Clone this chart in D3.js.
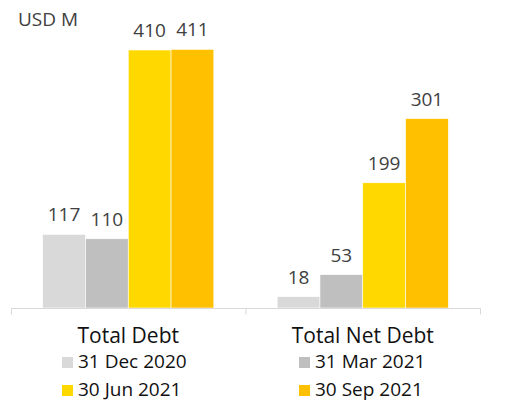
<!DOCTYPE html>
<html>
<head>
<meta charset="utf-8">
<script src="https://cdn.jsdelivr.net/npm/d3@7"></script>
<style>
  html, body { margin: 0; padding: 0; background: #fff; }
  svg { display: block; font-family: "Open Sans", "Noto Sans", sans-serif; }
</style>
</head>
<body>
<svg id="chart" width="508" height="402"></svg>
<script>
// Debt position, USD millions
const categories = ["Total Debt", "Total Net Debt"];
const seriesNames = ["31 Dec 2020", "31 Mar 2021", "30 Jun 2021", "30 Sep 2021"];
const seriesColors = ["#D9D9D9", "#BFBFBF", "#FFD800", "#FFC000"];
const totalDebt = [117, 110, 410, 411];
const totalNetDebt = [18, 53, 199, 301];
const unitLabel = "USD M";

const values = [totalDebt, totalNetDebt];
const rows = categories.map((c, i) => ({
  category: c,
  bars: seriesNames.map((s, j) => ({ series: s, value: values[i][j], color: seriesColors[j] }))
}));

const svg = d3.select("#chart");
const baseY = 308;
const left = 11, right = 480;

const x0 = d3.scaleBand().domain(categories).range([left, right]).paddingInner(0).paddingOuter(0);
const x1 = d3.scaleBand().domain(seriesNames).range([0, x0.bandwidth()]).paddingInner(0).paddingOuter(0.74);
const y = d3.scaleLinear().domain([0, 450]).range([baseY, baseY - 450 * 0.6293]);

// unit caption
svg.append("text")
  .attr("x", 18).attr("y", 26)
  .attr("font-size", 19).attr("fill", "#404040")
  .text(unitLabel);

// bars
const groups = svg.selectAll("g.group").data(rows).join("g")
  .attr("class", "group")
  .attr("transform", d => `translate(${x0(d.category)},0)`);

groups.selectAll("rect").data(d => d.bars).join("rect")
  .attr("x", d => x1(d.series))
  .attr("width", x1.bandwidth())
  .attr("y", d => y(d.value))
  .attr("height", d => baseY - y(d.value))
  .attr("fill", d => d.color)
  .attr("stroke", "#fff").attr("stroke-width", 0.6);

// value labels
groups.selectAll("text.val").data(d => d.bars).join("text")
  .attr("class", "val")
  .attr("x", d => x1(d.series) + x1.bandwidth() / 2)
  .attr("y", d => y(d.value) - 13)
  .attr("text-anchor", "middle")
  .attr("font-size", 19).attr("fill", "#404040")
  .text(d => d.value);

// category axis
const axis = d3.axisBottom(x0).tickSize(0).tickFormat("");
const axisG = svg.append("g").attr("transform", `translate(0,${baseY + 0.5})`).call(axis);
axisG.select(".domain").attr("stroke", "#D9D9D9").attr("stroke-width", 1)
  .attr("d", `M${left + 0.5},0H${right + 0.5}`);
axisG.selectAll(".tick").remove();
const bounds = [left, x0(categories[1]), right];
axisG.selectAll("line.sep").data(bounds).join("line")
  .attr("class", "sep")
  .attr("x1", d => d + 0.5).attr("x2", d => d + 0.5)
  .attr("y1", 0).attr("y2", 6)
  .attr("stroke", "#D9D9D9");

svg.selectAll("text.cat").data(categories).join("text")
  .attr("class", "cat")
  .attr("x", d => x0(d) + x0.bandwidth() / 2)
  .attr("y", 343)
  .attr("text-anchor", "middle")
  .attr("font-size", 21).attr("fill", "#111")
  .text(d => d);

// legend, two columns
const legendPos = [[62, 357], [299, 357], [62, 385], [299, 385]];
const legend = svg.selectAll("g.legend").data(seriesNames).join("g")
  .attr("class", "legend")
  .attr("transform", (d, i) => `translate(${legendPos[i][0]},${legendPos[i][1]})`);
legend.append("rect")
  .attr("width", 11).attr("height", 11)
  .attr("fill", (d, i) => seriesColors[i]);
legend.append("text")
  .attr("x", 16).attr("y", 11)
  .attr("font-size", 19).attr("fill", "#111")
  .text(d => d);
</script>
</body>
</html>
